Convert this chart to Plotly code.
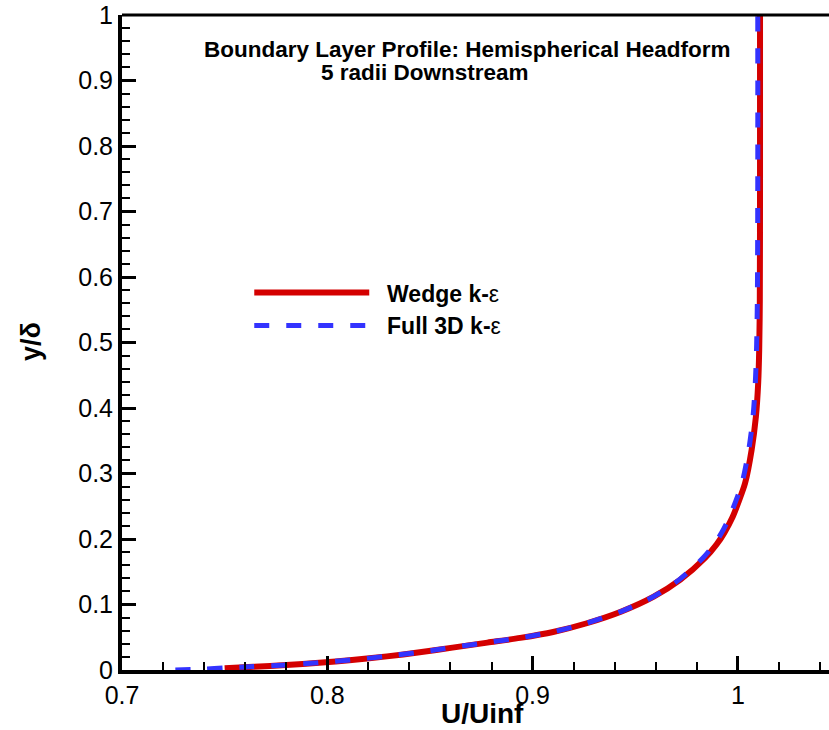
import plotly.graph_objects as go

# Wedge k-epsilon profile (red solid)
wedge_u = [0.750, 0.764, 0.780, 0.796, 0.812, 0.829, 0.845, 0.861, 0.878, 0.894,
           0.910, 0.926, 0.943, 0.959, 0.972, 0.984, 0.9897, 0.9933, 0.9975, 1.0005,
           1.0035, 1.0067, 1.0088, 1.0099, 1.0104, 1.0107, 1.0108, 1.0108]
wedge_y = [0.0028, 0.0048, 0.0075, 0.0110, 0.0152, 0.0208, 0.0270, 0.0342, 0.0418, 0.049,
           0.058, 0.071, 0.089, 0.112, 0.138, 0.171, 0.192, 0.209, 0.234, 0.258,
           0.285, 0.336, 0.387, 0.438, 0.489, 0.565, 0.750, 1.000]

# Full 3D k-epsilon profile (blue dashed)
full_u = [0.726, 0.740, 0.750, 0.764, 0.780, 0.796, 0.812, 0.829, 0.845, 0.861,
          0.878, 0.894, 0.910, 0.926, 0.943, 0.959, 0.9715, 0.983, 0.9885, 0.992,
          0.996, 0.999, 1.002, 1.0053, 1.0074, 1.0085, 1.0091, 1.0095, 1.0097, 1.0097]
full_y = [0.000, 0.0015, 0.0032, 0.0052, 0.0078, 0.0113, 0.0155, 0.0210, 0.0272, 0.0344,
          0.0420, 0.0492, 0.0582, 0.0712, 0.0892, 0.1122, 0.138, 0.171, 0.192, 0.209,
          0.234, 0.258, 0.285, 0.336, 0.387, 0.438, 0.489, 0.565, 0.750, 1.000]

x_ticks = [0.7, 0.8, 0.9, 1.0]
x_labels = ["0.7", "0.8", "0.9", "1"]
y_ticks = [0, 0.1, 0.2, 0.3, 0.4, 0.5, 0.6, 0.7, 0.8, 0.9, 1.0]
y_labels = ["0", "0.1", "0.2", "0.3", "0.4", "0.5", "0.6", "0.7", "0.8", "0.9", "1"]

FONT = "Liberation Sans, Arial, Helvetica, sans-serif"
NB = "\u00a0\u00a0"

fig = go.Figure()
fig.add_trace(go.Scatter(x=wedge_u, y=wedge_y, mode="lines",
                         name=NB + "<b>Wedge k-</b>ε",
                         line=dict(color="#d40000", width=6, shape="spline", smoothing=0.8)))
fig.add_trace(go.Scatter(x=full_u, y=full_y, mode="lines",
                         name=NB + "<b>Full 3D k-</b>ε",
                         line=dict(color="#3333ff", width=5, dash="15px,17px",
                                   shape="spline", smoothing=0.8)))

fig.update_layout(
    width=829, height=730,
    margin=dict(l=122, r=0, t=15, b=60),
    paper_bgcolor="white", plot_bgcolor="white",
    font=dict(family=FONT, color="black"),
    showlegend=True,
    legend=dict(x=0.18, y=0.609, xanchor="left", yanchor="top",
                bgcolor="rgba(0,0,0,0)", font=dict(size=23, family=FONT),
                itemwidth=115, tracegroupgap=0),
    xaxis=dict(range=[0.7, 1.0444], tickvals=x_ticks, ticktext=x_labels,
               ticks="inside", ticklen=14, tickwidth=2.5, tickcolor="black",
               showline=True, linewidth=4, linecolor="black",
               showgrid=False, zeroline=False,
               tickfont=dict(size=25, family=FONT),
               minor=dict(dtick=0.02, tick0=0.7, ticks="inside", ticklen=8,
                          tickwidth=1.5, tickcolor="black", showgrid=False)),
    yaxis=dict(range=[0, 1], tickvals=y_ticks, ticktext=y_labels,
               ticks="inside", ticklen=14, tickwidth=2.5, tickcolor="black",
               showline=True, linewidth=4, linecolor="black",
               showgrid=False, zeroline=False,
               tickfont=dict(size=25, family=FONT),
               minor=dict(dtick=0.02, tick0=0, ticks="inside", ticklen=8,
                          tickwidth=1.5, tickcolor="black", showgrid=False)),
    shapes=[dict(type="line", xref="paper", yref="paper", x0=0, x1=1, y0=1, y1=1,
                 line=dict(color="black", width=3))],
    annotations=[
        dict(text="<b>Boundary Layer Profile: Hemispherical Headform</b>",
             xref="paper", yref="paper", x=0.488, y=0.9466, xanchor="center",
             yanchor="middle", showarrow=False, font=dict(size=22.5, family=FONT)),
        dict(text="<b>5 radii Downstream</b>",
             xref="paper", yref="paper", x=0.4286, y=0.9115, xanchor="center",
             yanchor="middle", showarrow=False, font=dict(size=22.5, family=FONT)),
        dict(text="<b>U/Uinf</b>", xref="paper", yref="paper",
             x=(482 - 122) / 707, y=(670 - 713) / 655, xanchor="center",
             yanchor="middle", showarrow=False, font=dict(size=28, family=FONT)),
        dict(text="<b>y/δ</b>", xref="paper", yref="paper",
             x=(31 - 122) / 707, y=(670 - 342) / 655, xanchor="center",
             yanchor="middle", textangle=-90, showarrow=False,
             font=dict(size=27, family=FONT)),
    ],
)

fig.write_html("out.html")
